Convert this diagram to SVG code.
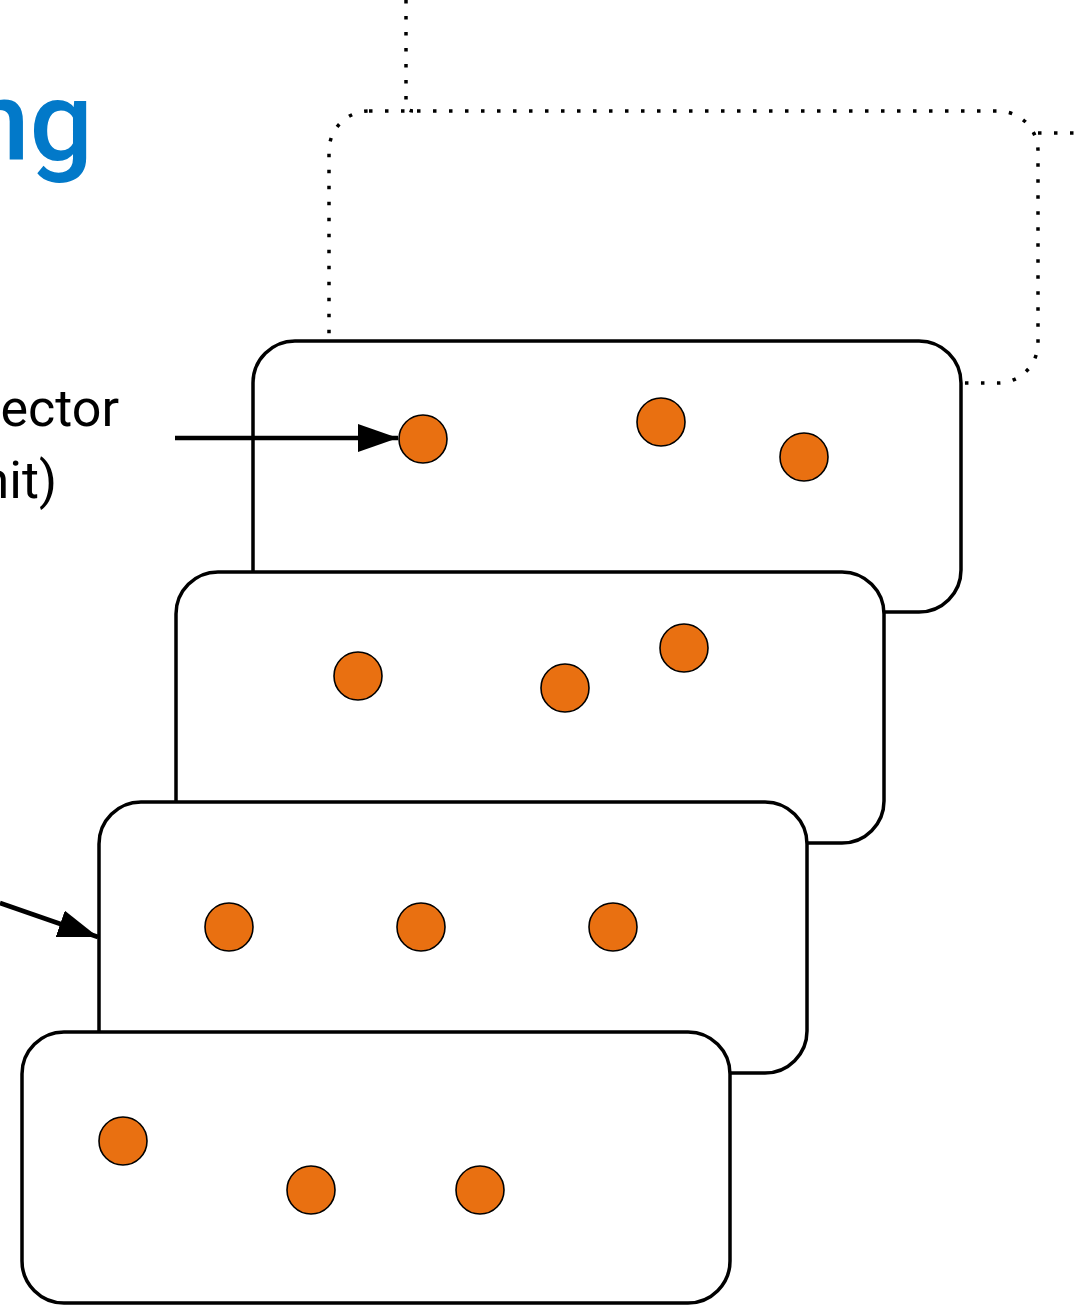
<svg xmlns="http://www.w3.org/2000/svg" width="1077" height="1306" viewBox="0 0 1077 1306">
  <style>
    .dotted { fill: none; stroke: #000; stroke-width: 3.5; stroke-dasharray: 3.5 12.5; }
    .card { fill: #fff; stroke: #000; stroke-width: 3.5; }
    .dot { fill: #E97011; stroke: #000; stroke-width: 1.6; }
    .edge { fill: none; stroke: #000; stroke-width: 4.5; }
    .label { font-family: Roboto, "Liberation Sans", sans-serif; font-size: 52px; fill: #000; }
    .title { font-family: Roboto, "Liberation Sans", sans-serif; font-size: 112px; font-weight: 500; fill: #0279C9; }
  </style>
  <defs>
    <marker id="arrowHead" viewBox="0 0 40 28" refX="40" refY="14" markerWidth="40" markerHeight="28" markerUnits="userSpaceOnUse" orient="auto">
      <path d="M0,0 L40,14 L0,28 Z" fill="#000"/>
    </marker>
  </defs>

  <!-- heading and labels -->
  <g id="title">
    <text class="title" x="93" y="160" text-anchor="end">ng</text>
  </g>
  <g id="label-vector">
    <text class="label" x="119" y="426" text-anchor="end">ector</text>
    <text class="label" x="57" y="498" text-anchor="end">nit)</text>
  </g>

  <!-- dotted container and its links -->
  <g id="container">
    <rect class="dotted" x="329" y="111" width="709" height="272" rx="40" ry="40"/>
  </g>
  <g id="connectors">
    <path class="dotted" d="M406,0 L406,104 Q406,111 413,111"/>
    <path class="dotted" d="M1038,133 L1077,133"/>
  </g>

  <!-- stacked cards, back to front -->
  <g id="card-1">
    <rect class="card" x="253" y="341" width="708" height="271" rx="42" ry="42"/>
    <circle class="dot" cx="423" cy="439" r="24"/>
    <circle class="dot" cx="661" cy="422" r="24"/>
    <circle class="dot" cx="804" cy="457" r="24"/>
  </g>
  <g id="card-2">
    <rect class="card" x="176" y="572" width="708" height="271" rx="42" ry="42"/>
    <circle class="dot" cx="358" cy="676" r="24"/>
    <circle class="dot" cx="565" cy="688" r="24"/>
    <circle class="dot" cx="684" cy="648" r="24"/>
  </g>
  <g id="card-3">
    <rect class="card" x="99" y="802" width="708" height="271" rx="42" ry="42"/>
    <circle class="dot" cx="229" cy="927" r="24"/>
    <circle class="dot" cx="421" cy="927" r="24"/>
    <circle class="dot" cx="613" cy="927" r="24"/>
  </g>
  <g id="card-4">
    <rect class="card" x="22" y="1032" width="708" height="271" rx="42" ry="42"/>
    <circle class="dot" cx="123" cy="1141" r="24"/>
    <circle class="dot" cx="311" cy="1190" r="24"/>
    <circle class="dot" cx="480" cy="1190" r="24"/>
  </g>

  <!-- arrows -->
  <g id="arrows">
    <path class="edge" d="M175,438 L398,438" marker-end="url(#arrowHead)"/>
    <path class="edge" d="M0,903 L98,937" marker-end="url(#arrowHead)"/>
  </g>
</svg>
